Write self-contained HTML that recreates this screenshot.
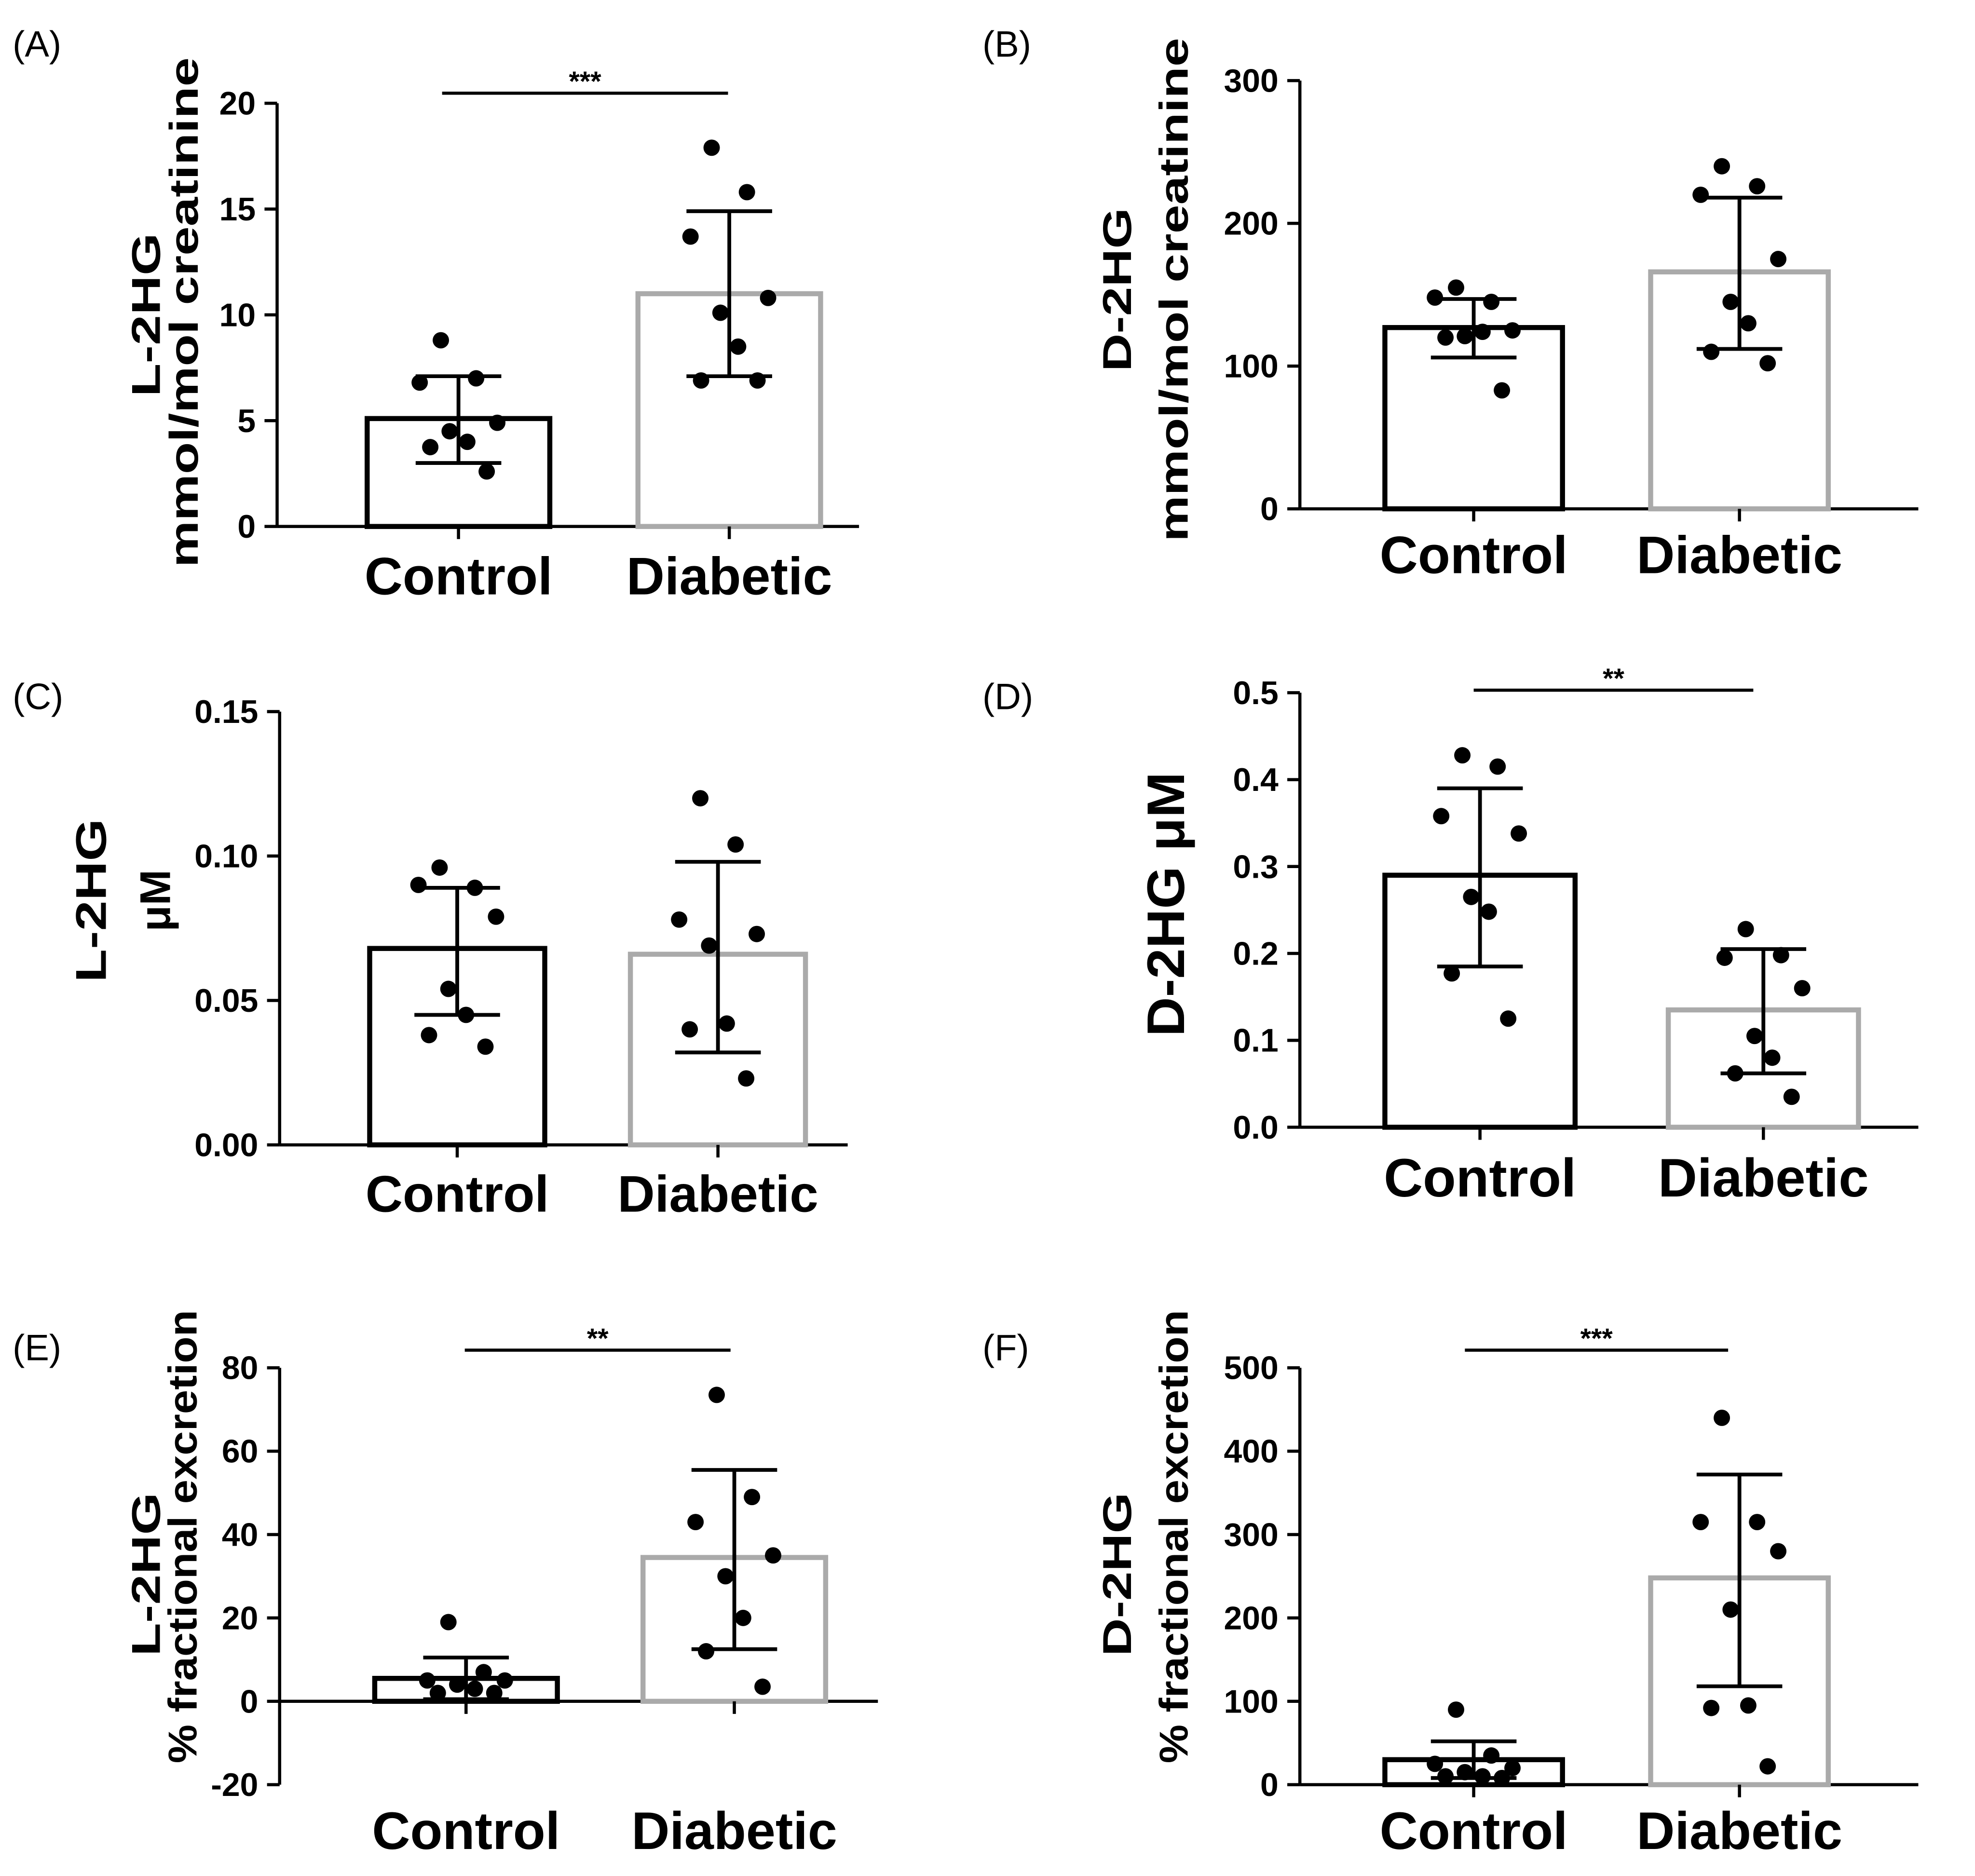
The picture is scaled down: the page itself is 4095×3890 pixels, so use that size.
<!DOCTYPE html>
<html><head><meta charset="utf-8"><style>
html,body{margin:0;padding:0;background:#fff}
svg{display:block}
text{font-family:"Liberation Sans",Arial,sans-serif}
</style></head><body>
<svg id="fig" width="4095" height="3890" viewBox="0 0 1568 1489.5" xmlns="http://www.w3.org/2000/svg"></svg>
<script>
// ---- data ----
const categories = ["Control","Diabetic"];
const aMeans=[5.1,11.0], aErrLo=[3.0,7.1], aErrHi=[7.1,14.9];
const aCtrl=[8.8,7.0,6.8,4.9,4.5,4.0,3.75,2.6], aDiab=[17.9,15.8,13.7,10.8,10.1,8.5,6.9,6.9];
const aTicks=[0,5,10,15,20];
const bMeans=[127,166], bErrLo=[106,112], bErrHi=[147,218];
const bCtrl=[155,145,148,125,121,124,120,83], bDiab=[240,226,220,175,145,130,110,102];
const bTicks=[0,100,200,300];
const cMeans=[0.068,0.066], cErrLo=[0.045,0.032], cErrHi=[0.089,0.098];
const cCtrl=[0.096,0.089,0.090,0.079,0.054,0.045,0.038,0.034], cDiab=[0.120,0.104,0.078,0.073,0.069,0.042,0.040,0.023];
const cTicks=["0.00","0.05","0.10","0.15"];
const dMeans=[0.29,0.135], dErrLo=[0.185,0.062], dErrHi=[0.39,0.205];
const dCtrl=[0.428,0.415,0.358,0.338,0.265,0.248,0.177,0.125], dDiab=[0.228,0.198,0.195,0.16,0.105,0.08,0.062,0.035];
const dTicks=["0.0","0.1","0.2","0.3","0.4","0.5"];
const eMeans=[5.5,34.5], eErrLo=[0.5,12.5], eErrHi=[10.5,55.5];
const eCtrl=[19,7,5,5,4,3,2,2], eDiab=[73.5,49,43,35,30,20,12,3.5];
const eTicks=[-20,0,20,40,60,80];
const fMeans=[30,248], fErrLo=[8,118], fErrHi=[52,372];
const fCtrl=[90,35,25,20,15,10,10,8], fDiab=[440,315,315,280,210,95,92,22];
const fTicks=[0,100,200,300,400,500];

const NS="http://www.w3.org/2000/svg";
const svg=document.getElementById('fig');
function el(tag,attrs,parent,txt){const e=document.createElementNS(NS,tag);for(const k in attrs)e.setAttribute(k,attrs[k]);if(txt!==undefined)e.textContent=txt;(parent||svg).appendChild(e);return e;}

function panel(p){
  const g=el('g',{});
  
  
  const vmin=Number(p.ticks[0]), vmax=Number(p.ticks[p.ticks.length-1]);
  const Y=v=>p.y0-(v-vmin)*(p.y0-p.y1)/(vmax-vmin);
  const base=Y(p.base!==undefined?p.base:vmin);
  const lbl=el('text',{x:p.lx,y:p.ly,'font-size':29},g,'('+p.id+')');
  
  
  const ax=el('line',{x1:p.ax,y1:p.y1,x2:p.ax,y2:p.y0,stroke:'#000','stroke-width':2.5},g);
  
  
  p.ticks.forEach(t=>{const v=Number(t);const ty=Y(v);
    el('line',{x1:p.ax-10,y1:ty,x2:p.ax,y2:ty,stroke:'#000','stroke-width':2.5},g);
    const tl=el('text',{x:p.ax-17,y:ty+9,'font-size':26,'font-weight':'bold','text-anchor':'end'},g,String(t));
    
    
  });
  const xa=el('line',{x1:p.ax,y1:base,x2:p.axEnd,y2:base,stroke:'#000','stroke-width':2.5},g);
  
  
  const cols=['#000','#aaa'];
  const dots=[p.ctrl,p.diab];
  categories.forEach((c,i)=>{
    const cx=p.cx[i], hw=p.bw/2;
    const top=Y(p.means[i]);
    const b=el('rect',{x:cx-hw,y:Math.min(top,base),width:p.bw,height:Math.abs(base-top),fill:'none',stroke:cols[i],'stroke-width':4},g);
    
    
    el('line',{x1:cx,y1:base,x2:cx,y2:base+10,stroke:'#000','stroke-width':2.5},g);
    const cl=el('text',{x:cx,y:p.catY,'font-size':p.catF,'font-weight':'bold','text-anchor':'middle'},g,c);
    
    
    const eg=el('g',{stroke:'#000','stroke-width':3},g);
    
    
    el('line',{x1:cx,y1:Y(p.lo[i]),x2:cx,y2:Y(p.hi[i])},eg);
    el('line',{x1:cx-34,y1:Y(p.lo[i]),x2:cx+34,y2:Y(p.lo[i])},eg);
    el('line',{x1:cx-34,y1:Y(p.hi[i]),x2:cx+34,y2:Y(p.hi[i])},eg);
    const off=[-10,10,-22,22,-5,5,-16,16];
    dots[i].forEach((v,k)=>{
      const d=el('circle',{cx:cx+off[k]*1.4,cy:Y(v),r:6.5,fill:'#000'},g);
      
      
    });
  });
  if(p.sig){
    const s=el('line',{x1:p.sig[0],y1:p.sig[2],x2:p.sig[1],y2:p.sig[2],stroke:'#000','stroke-width':2.5},g);
    
    
    const st=el('text',{x:(p.sig[0]+p.sig[1])/2,y:p.sig[2]-2,'font-size':22,'font-weight':'bold','text-anchor':'middle'},g,p.sig[3]);
    
    
  }
  p.titles.forEach(t=>{
    const at={x:0,y:0,'font-size':t[3]||32,'font-weight':'bold','text-anchor':'middle',transform:`translate(${t[1]},${t[2]}) rotate(-90)`};
    if(t[4]){at.textLength=t[4];at.lengthAdjust='spacingAndGlyphs';}
    const tt=el('text',at,g,t[0]);
    
    
  });
}

panel({id:'A',lx:10,ly:45,ax:220,y0:418,y1:82,axEnd:682,ticks:aTicks,cx:[364,579],bw:145,means:aMeans,lo:aErrLo,hi:aErrHi,ctrl:aCtrl,diab:aDiab,catY:472,catF:42,sig:[351,578,74,'***'],titles:[['L-2HG',127,250,32,130],['mmol/mol creatinine',157,248,32,405]]});
panel({id:'B',lx:780,ly:45,ax:1032,y0:404,y1:64,axEnd:1523,ticks:bTicks,cx:[1170,1381],bw:141,means:bMeans,lo:bErrLo,hi:bErrHi,ctrl:bCtrl,diab:bDiab,catY:455,catF:42,titles:[['D-2HG',898,230,32,130],['mmol/mol creatinine',943,230,32,400]]});
panel({id:'C',lx:10,ly:563,ax:222,y0:909,y1:565,axEnd:673,ticks:cTicks,cx:[363,570],bw:139,means:cMeans,lo:cErrLo,hi:cErrHi,ctrl:cCtrl,diab:cDiab,catY:962,catF:41,titles:[['L-2HG',84,715,34,130],['μM',135,715,34]]});
panel({id:'D',lx:780,ly:563,ax:1032,y0:895,y1:550,axEnd:1523,ticks:dTicks,cx:[1175,1400],bw:151,means:dMeans,lo:dErrLo,hi:dErrHi,ctrl:dCtrl,diab:dDiab,catY:950,catF:43,sig:[1170,1392,548,'**'],titles:[['D-2HG μM',940,718,42,210]]});
panel({id:'E',lx:10,ly:1080,ax:222,y0:1417,y1:1086,base:0,axEnd:697,ticks:eTicks,cx:[370,583],bw:145,means:eMeans,lo:eErrLo,hi:eErrHi,ctrl:eCtrl,diab:eDiab,catY:1468,catF:42,sig:[369,580,1072,'**'],titles:[['L-2HG',127,1250,32,130],['% fractional excretion',156,1220,32,360]]});
panel({id:'F',lx:780,ly:1080,ax:1032,y0:1417,y1:1086,axEnd:1523,ticks:fTicks,cx:[1170,1381],bw:141,means:fMeans,lo:fErrLo,hi:fErrHi,ctrl:fCtrl,diab:fDiab,catY:1468,catF:42,sig:[1163,1372,1072,'***'],titles:[['D-2HG',898,1250,32,130],['% fractional excretion',943,1220,32,360]]});
</script>
</body></html>
